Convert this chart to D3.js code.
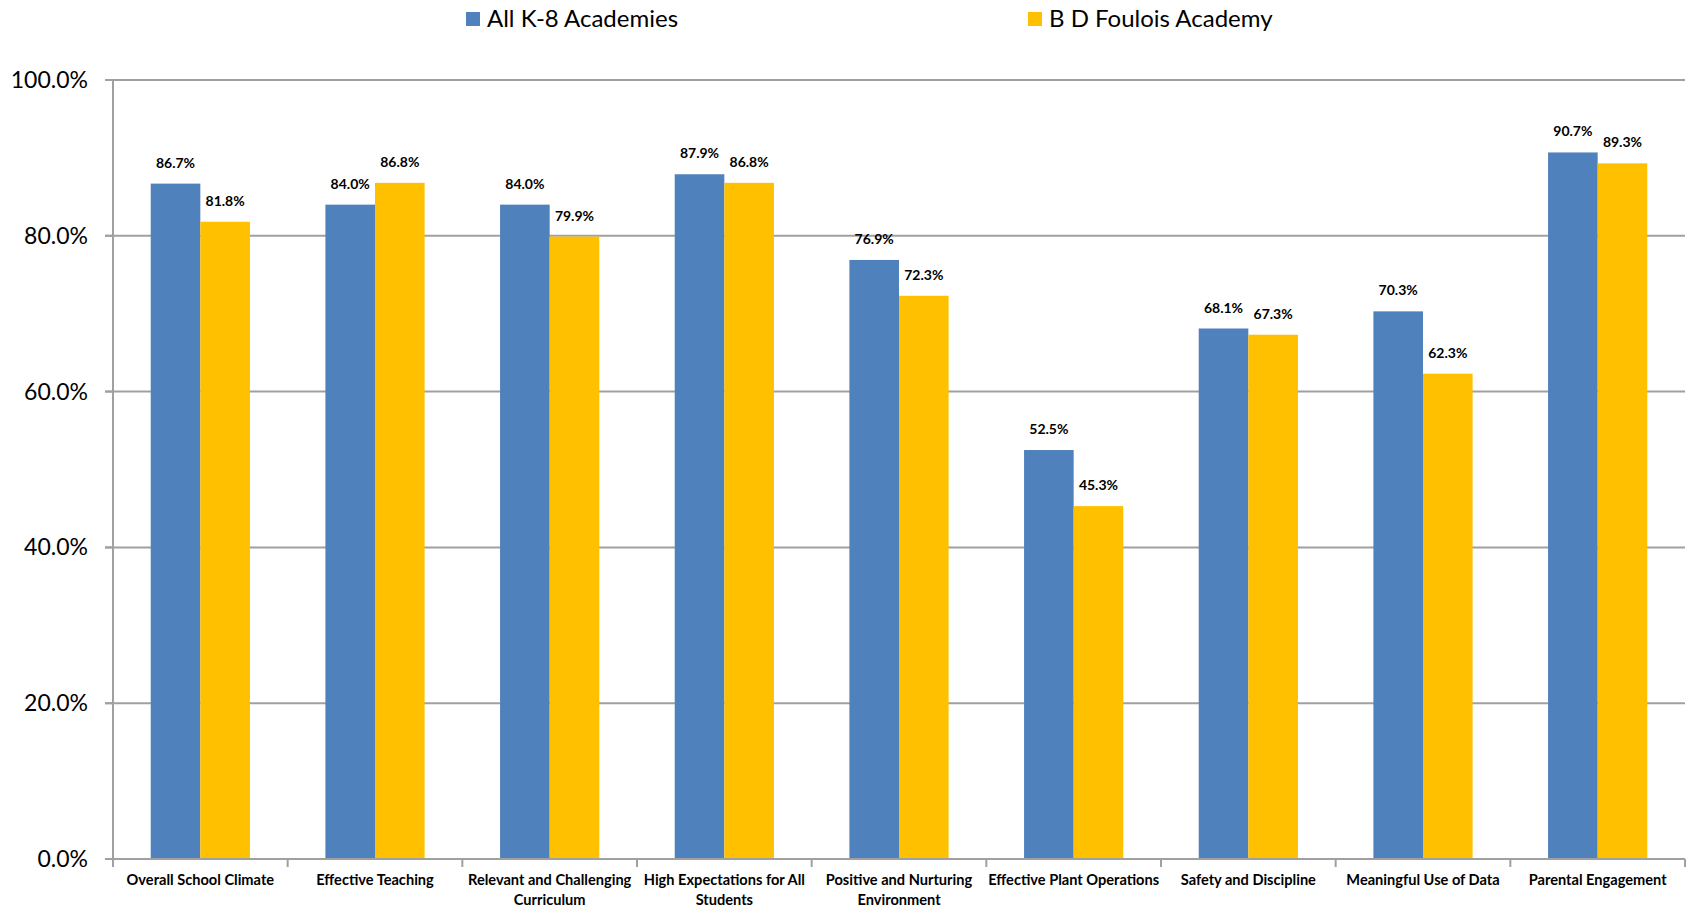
<!DOCTYPE html>
<html>
<head>
<meta charset="utf-8">
<script src="https://cdn.jsdelivr.net/npm/d3@7"></script>
<style>
  html, body { margin: 0; padding: 0; background: #fff; }
  svg { display: block; font-family: Lato, "Open Sans", sans-serif; }
</style>
</head>
<body>
<svg id="chart" width="1690" height="915"></svg>
<script>
const categories = [
  "Overall School Climate",
  "Effective Teaching",
  "Relevant and Challenging\nCurriculum",
  "High Expectations for All\nStudents",
  "Positive and Nurturing\nEnvironment",
  "Effective Plant Operations",
  "Safety and Discipline",
  "Meaningful Use of Data",
  "Parental Engagement"
];
const seriesNames = ["All K-8 Academies", "B D Foulois Academy"];
const allK8 = [86.7, 84.0, 84.0, 87.9, 76.9, 52.5, 68.1, 70.3, 90.7];
const foulois = [81.8, 86.8, 79.9, 86.8, 72.3, 45.3, 67.3, 62.3, 89.3];
const yTicks = [0, 20, 40, 60, 80, 100];
const colors = ["#4F81BD", "#FFC000"];

const svg = d3.select("#chart");
const mLeft = 113, mRight = 1685, mTop = 80, mBottom = 859;
const grid = "#A0A0A0";

const x0 = d3.scaleBand().domain(categories).range([mLeft, mRight]).paddingInner(0).paddingOuter(0);
const bw = x0.bandwidth();
const x1 = d3.scaleBand().domain(seriesNames).range([0.216 * bw, 0.784 * bw]).padding(0);
const y = d3.scaleLinear().domain([0, 100]).range([mBottom, mTop]);

// gridlines
svg.append("g").selectAll("line").data(yTicks.filter(t => t > 0)).join("line")
  .attr("x1", mLeft - 8).attr("x2", mRight)
  .attr("y1", d => y(d)).attr("y2", d => y(d))
  .attr("stroke", grid).attr("stroke-width", 2);

// y labels
svg.append("g").selectAll("text").data(yTicks).join("text")
  .attr("x", 88).attr("y", d => y(d) + 8)
  .attr("text-anchor", "end").attr("font-size", 23).attr("fill", "#000")
  .text(d => d.toFixed(1) + "%");

const data = categories.map((c, i) => ({ cat: c, vals: [allK8[i], foulois[i]] }));

// bars
const groups = svg.append("g").selectAll("g").data(data).join("g")
  .attr("transform", d => `translate(${x0(d.cat)},0)`);
groups.selectAll("rect").data(d => d.vals.map((v, j) => ({ name: seriesNames[j], v, j }))).join("rect")
  .attr("x", d => x1(d.name)).attr("width", x1.bandwidth())
  .attr("y", d => y(d.v)).attr("height", d => y(0) - y(d.v))
  .attr("fill", d => colors[d.j]);
groups.selectAll("text").data(d => d.vals.map((v, j) => ({ name: seriesNames[j], v, j }))).join("text")
  .attr("x", d => x1(d.name) + x1.bandwidth() / 2)
  .attr("y", d => y(d.v) - 16)
  .attr("text-anchor", "middle").attr("font-size", 14).attr("font-weight", "bold")
  .text(d => d.v.toFixed(1) + "%");

// axes lines
svg.append("line").attr("x1", mLeft).attr("x2", mLeft).attr("y1", mTop).attr("y2", mBottom)
  .attr("stroke", grid).attr("stroke-width", 2);
svg.append("line").attr("x1", mLeft - 8).attr("x2", mRight).attr("y1", mBottom).attr("y2", mBottom)
  .attr("stroke", grid).attr("stroke-width", 2);
// y ticks
svg.append("g").selectAll("line").data(yTicks).join("line")
  .attr("x1", mLeft - 8).attr("x2", mLeft).attr("y1", d => y(d)).attr("y2", d => y(d))
  .attr("stroke", grid).attr("stroke-width", 2);
// x ticks at category boundaries
const bounds = categories.map(c => x0(c)).concat([mRight]);
svg.append("g").selectAll("line").data(bounds).join("line")
  .attr("x1", d => d).attr("x2", d => d).attr("y1", mBottom).attr("y2", mBottom + 8)
  .attr("stroke", grid).attr("stroke-width", 2);

// x labels
const xl = svg.append("g").selectAll("text").data(categories).join("text")
  .attr("x", d => x0(d) + bw / 2).attr("y", 885)
  .attr("text-anchor", "middle").attr("font-size", 14.6).attr("font-weight", "bold");
xl.each(function(d) {
  const lines = d.split("\n");
  d3.select(this).selectAll("tspan").data(lines).join("tspan")
    .attr("x", x0(d) + bw / 2).attr("dy", (l, i) => i === 0 ? 0 : 20).text(l => l);
});

// legend
const legendX = [466, 1028];
const lg = svg.append("g").selectAll("g").data(seriesNames).join("g")
  .attr("transform", (d, i) => `translate(${legendX[i]},12)`);
lg.append("rect").attr("width", 14).attr("height", 14).attr("fill", (d, i) => colors[i]);
lg.append("text").attr("x", 21).attr("y", 15).attr("font-size", 24).text(d => d);
</script>
</body>
</html>
